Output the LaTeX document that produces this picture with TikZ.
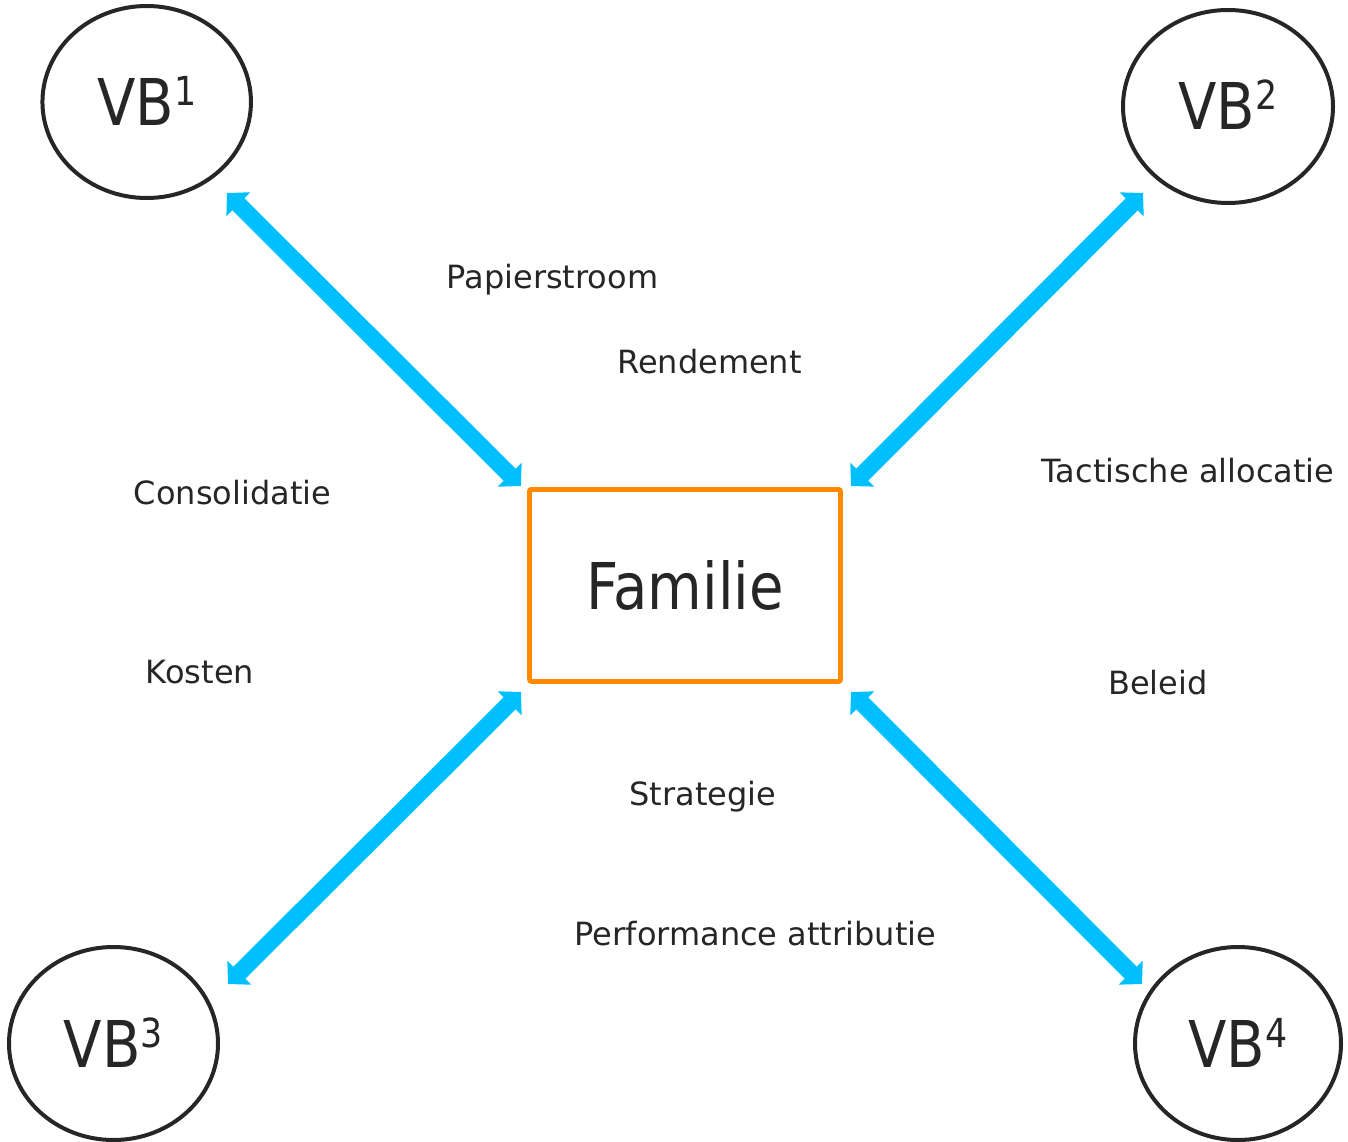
\documentclass[tikz,border=0pt]{standalone}
\usepackage{fontspec}
\setmainfont{DejaVu Sans}
\newfontfamily\tahfont[FakeStretch=0.87]{DejaVu Sans}
\usetikzlibrary{arrows.meta,shapes.geometric}
\definecolor{inkgray}{HTML}{262626}
\definecolor{flowcyan}{HTML}{00BFFF}
\definecolor{famorange}{HTML}{FF8A00}
\newcommand{\vbsup}[1]{\raisebox{20pt}{\fontsize{40}{40}\selectfont #1}}
\tikzset{
  vbcirc/.style={draw=inkgray, line width=4pt, ellipse, inner sep=0pt},
  vbtext/.style={text=inkgray, inner sep=0pt, anchor=base, yshift=-23.5pt,
    font=\tahfont\fontsize{64.5}{70}\selectfont},
  fambox/.style={draw=famorange, line width=4.8pt, rectangle, rounded corners=2pt,
    minimum width=311pt, minimum height=192pt, inner sep=0pt, text=inkgray,
    font=\tahfont\fontsize{64.5}{70}\selectfont},
  lbl/.style={text=inkgray, inner sep=0pt, anchor=base,
    font=\fontsize{32}{38}\selectfont},
  flowtip/.tip={Triangle[length=16pt,width=33pt]},
  flow/.style={draw=flowcyan, line width=17pt, flowtip-flowtip}
}
\begin{document}
\begin{tikzpicture}[x=1pt,y=-1pt]
\useasboundingbox (0,0) rectangle (1348,1142);
% circles
\node[vbcirc, minimum width=208.5pt, minimum height=192pt] (vb1) at (146.7,102) {};
\node[vbcirc, minimum width=210pt, minimum height=193pt] (vb2) at (1228,106.5) {};
\node[vbcirc, minimum width=209pt, minimum height=193pt] (vb3) at (113.5,1043.5) {};
\node[vbcirc, minimum width=206pt, minimum height=193pt] (vb4) at (1238,1043.5) {};
\node[vbtext] (vb1t) at (vb1.center) {VB\vbsup{1}};
\node[vbtext] (vb2t) at (vb2.center) {VB\vbsup{2}};
\node[vbtext] (vb3t) at (vb3.center) {VB\vbsup{3}};
\node[vbtext] (vb4t) at (vb4.center) {VB\vbsup{4}};
% central box
\node[fambox] (fam) at (685,585.4) {Familie};
% arrow ends
\coordinate (a1s) at (227,193);
\coordinate (a1e) at (521,486);
\coordinate (a2s) at (1143,193);
\coordinate (a2e) at (851,486);
\coordinate (a3s) at (521,692);
\coordinate (a3e) at (228,984);
\coordinate (a4s) at (851,692);
\coordinate (a4e) at (1142,984);
\draw[flow] (a1s) -- (a1e);
\draw[flow] (a2s) -- (a2e);
\draw[flow] (a3s) -- (a3e);
\draw[flow] (a4s) -- (a4e);
% labels
\node[lbl] (l1) at (552.5,288) {Papierstroom};
\node[lbl] (l2) at (709.5,373) {Rendement};
\node[lbl] (l3) at (232.5,504) {Consolidatie};
\node[lbl] (l4) at (200,683) {Kosten};
\node[lbl] (l5) at (1188,482) {Tactische allocatie};
\node[lbl] (l6) at (1158,694) {Beleid};
\node[lbl] (l7) at (703,805) {Strategie};
\node[lbl] (l8) at (755.5,945) {Performance attributie};
\end{tikzpicture}
\end{document}
